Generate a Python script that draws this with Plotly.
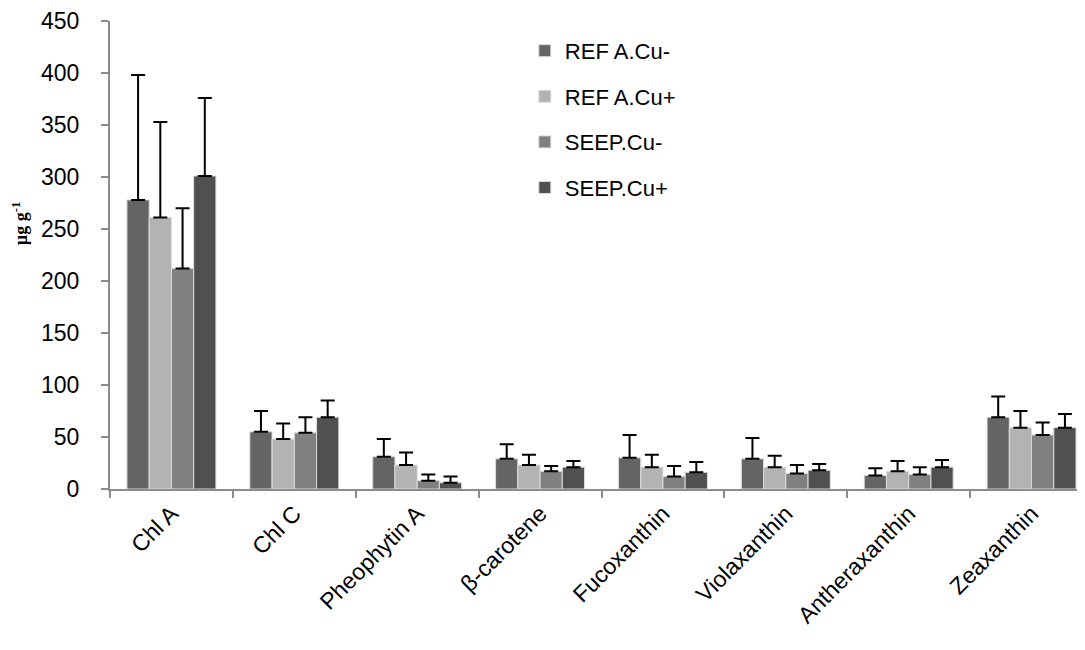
import plotly.graph_objects as go

# pigment categories
pigments = ['Chl A', 'Chl C', 'Pheophytin A', 'β-carotene', 'Fucoxanthin',
            'Violaxanthin', 'Antheraxanthin', 'Zeaxanthin']

# mean values (µg g-1) per treatment
ref_cu_minus = [278, 55, 31, 29, 30, 29, 13, 69]
ref_cu_plus = [261, 48, 23, 23, 21, 21, 17, 59]
seep_cu_minus = [212, 54, 8, 17, 12, 15, 14, 52]
seep_cu_plus = [301, 69, 6, 21, 16, 18, 21, 59]

# upper error (SD)
ref_cu_minus_err = [120, 20, 17, 14, 22, 20, 7, 20]
ref_cu_plus_err = [92, 15, 12, 10, 12, 11, 10, 16]
seep_cu_minus_err = [58, 15, 6, 5, 10, 8, 7, 12]
seep_cu_plus_err = [75, 16, 6, 6, 10, 6, 7, 13]

series = [
    ('REF A.Cu-', ref_cu_minus, ref_cu_minus_err, '#646464'),
    ('REF A.Cu+', ref_cu_plus, ref_cu_plus_err, '#b3b3b3'),
    ('SEEP.Cu-', seep_cu_minus, seep_cu_minus_err, '#808080'),
    ('SEEP.Cu+', seep_cu_plus, seep_cu_plus_err, '#505050'),
]

fig = go.Figure()
for i, (name, vals, err, col) in enumerate(series):
    fig.add_trace(go.Bar(
        x=pigments, y=vals, name=name, legendgroup='g%d' % i,
        marker=dict(color=col, line=dict(color='#dcdcdc', width=1)),
        error_y=dict(type='data', symmetric=False, array=err,
                     arrayminus=[0] * len(err), color='black',
                     thickness=2, width=7),
    ))

# y axis title placed a bit above the middle, as in the original
fig.add_annotation(text='<b>µg g<sup>-1</sup></b>', textangle=-90,
                   xref='paper', yref='paper', x=-0.0916, y=0.568,
                   xanchor='center', yanchor='middle', showarrow=False,
                   font=dict(family='Liberation Serif, Times New Roman', size=18))

# page body adds 8px offset, so margins are trimmed to keep the plot in place
# the category axis runs a little past the right edge of the window
fig.update_layout(
    width=1085, height=650,
    margin=dict(l=102, r=0, t=13, b=169),
    plot_bgcolor='white', paper_bgcolor='white',
    font=dict(family='Liberation Sans, Arial', size=22, color='black'),
    barmode='group', bargap=0.276, bargroupgap=0,
    legend=dict(x=0.422, y=0.981, xanchor='left', yanchor='top',
                font=dict(size=22), tracegroupgap=14,
                bgcolor='rgba(0,0,0,0)'),
    xaxis=dict(showline=True, linecolor='#8c8c8c', linewidth=2,
               ticks='outside', tickcolor='#8c8c8c', ticklen=7, tickwidth=2,
               tickson='boundaries', tickangle=-45, automargin=False,
               tickfont=dict(size=23)),
    yaxis=dict(range=[0, 450], dtick=50, showline=True, linecolor='#8c8c8c',
               linewidth=2, ticks='outside', tickcolor='#8c8c8c', ticklen=7,
               tickwidth=2, showgrid=False, zeroline=False, automargin=False,
               tickfont=dict(size=23), ticklabelstandoff=17),
)

fig.write_html('out.html')
